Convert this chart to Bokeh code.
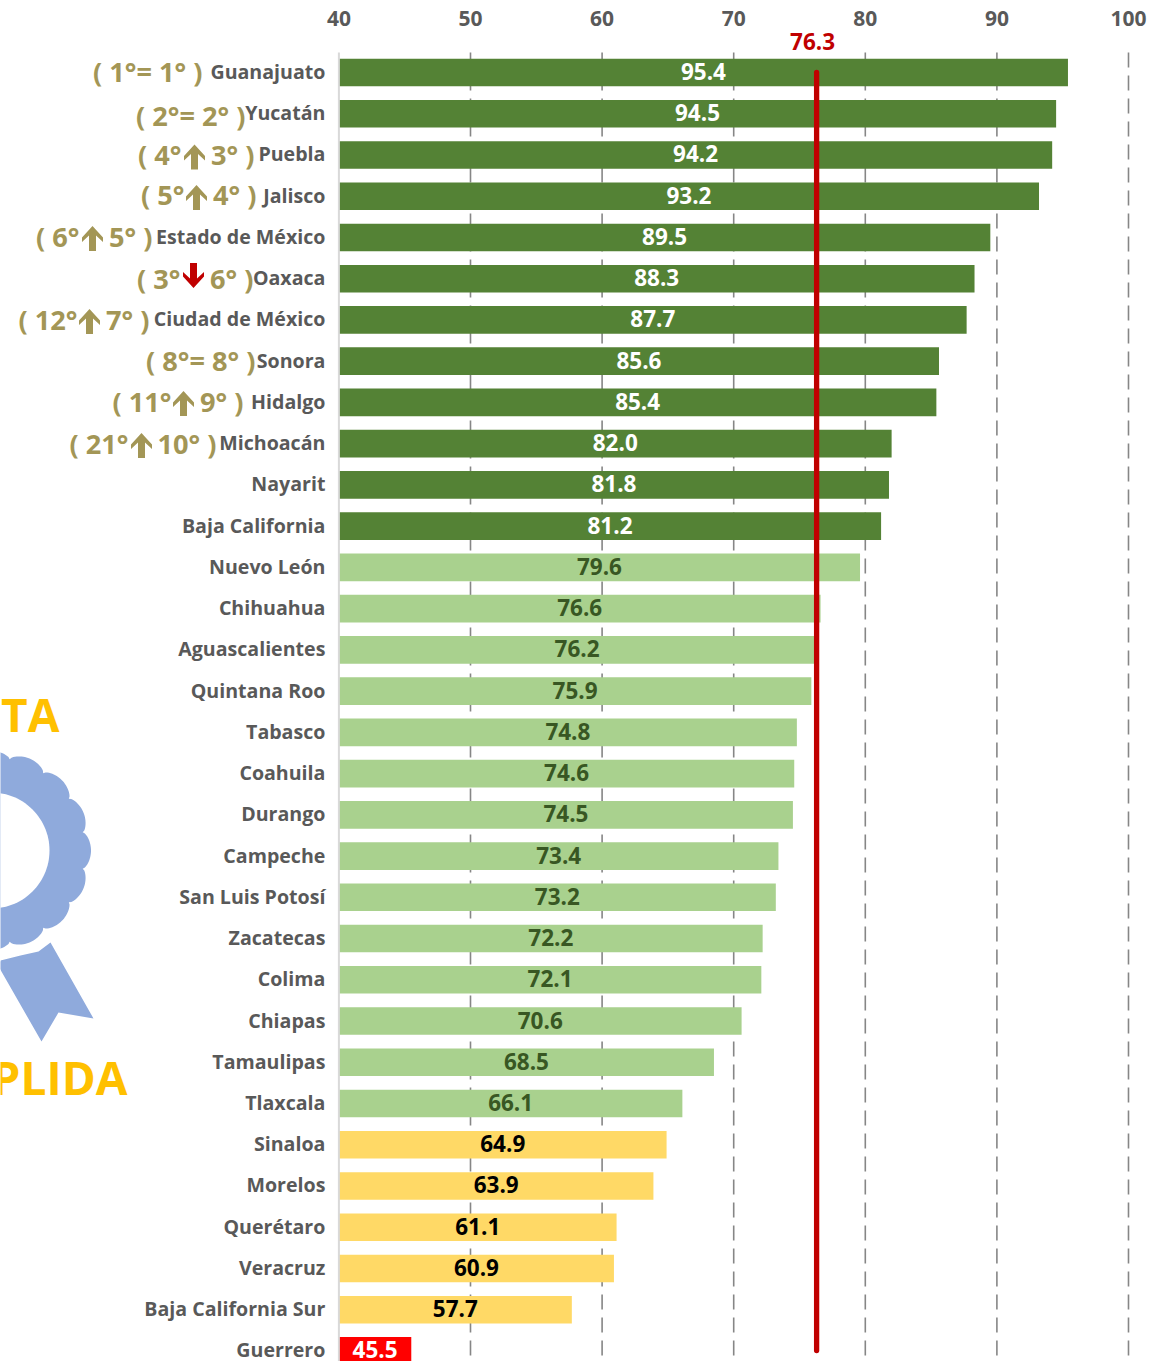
from bokeh.plotting import figure
from bokeh.models import Range1d, FixedTicker, ColumnDataSource
from bokeh.core.properties import value
from bokeh.embed import file_html
from bokeh.resources import INLINE
import numpy as np

states = ["Guanajuato","Yucatán","Puebla","Jalisco","Estado de México","Oaxaca","Ciudad de México","Sonora","Hidalgo","Michoacán","Nayarit","Baja California","Nuevo León","Chihuahua","Aguascalientes","Quintana Roo","Tabasco","Coahuila","Durango","Campeche","San Luis Potosí","Zacatecas","Colima","Chiapas","Tamaulipas","Tlaxcala","Sinaloa","Morelos","Querétaro","Veracruz","Baja California Sur","Guerrero"]
scores = [95.4,94.5,94.2,93.2,89.5,88.3,87.7,85.6,85.4,82.0,81.8,81.2,79.6,76.6,76.2,75.9,74.8,74.6,74.5,73.4,73.2,72.2,72.1,70.6,68.5,66.1,64.9,63.9,61.1,60.9,57.7,45.5]
band_counts = [12,14,5,1]
band_fill = ["#548235","#A9D18E","#FFD966","#FF0000"]
band_text = ["#FFFFFF","#385723","#000000","#FFFFFF"]
national = 76.3
x_ticks = [40,50,60,70,80,90,100]

rank_whole = ["( 1°= 1° )","( 2°= 2° )",None,None,None,None,None,"( 8°= 8° )",None,None]
rank_before = [None,None,"( 4°","( 5°","( 6°","( 3°","( 12°",None,"( 11°","( 21°"]
rank_after = [None,None,"3° )","4° )","5° )","6° )","7° )",None,"9° )","10° )"]
rank_dir = [0,0,1,1,1,-1,1,0,1,1]

# layout (page pixels of the reference)
PX0, PXU = 338.4, 13.16
PY0, PYU = 72.0, 41.24
def X(px): return 40 + (np.asarray(px, float) - PX0) / PXU
def Y(py): return (np.asarray(py, float) - PY0) / PYU

whole_right = [202,245,None,None,None,None,None,255,None,None]
before_right = [None,None,181,184,79,180,77,None,171,128]
arrow_cx = [None,None,194,196,92,193,89,None,183,141]
after_right = [None,None,254,256,152,253,149,None,243,216]
rank_cy = [70.5,114.5,153.5,193.5,235.5,277.5,318.5,359.5,400.5,442.5]
arrow_cy = [None,None,156.5,197,238,275,321,None,403,445]

FONT = "Open Sans"
NAME_SZ = "19.6px"; VAL_SZ = "22.5px"; RANK_SZ = "27.2px"
GOLD = "#A39656"; RED = "#C00000"; GREY = "#595959"; BLUE = "#8FAADC"; AMBER = "#FFC000"

p = figure(width=1152, height=1361, output_backend="svg", toolbar_location=None,
           x_range=Range1d(float(X(0)), float(X(1152))),
           y_range=Range1d(float(Y(1361)), float(Y(29))),
           x_axis_location="above", min_border_left=0, min_border_right=0,
           min_border_top=29, min_border_bottom=0)
p.outline_line_color = None
p.yaxis.visible = False
p.ygrid.visible = False
p.xgrid.visible = False
ax = p.xaxis[0]
ax.ticker = FixedTicker(ticks=x_ticks)
ax.axis_line_color = None
ax.major_tick_line_color = None
ax.minor_tick_line_color = None
ax.major_label_standoff = -2
ax.major_label_text_font = FONT
ax.major_label_text_font_style = "bold"
ax.major_label_text_font_size = "21px"
ax.major_label_text_color = GREY

grid_x = x_ticks[1:]
p.segment(x0=grid_x, x1=grid_x, y0=[float(Y(52))] * len(grid_x), y1=[float(Y(1361))] * len(grid_x),
          line_color="#868686", line_width=1.6, line_dash="15 8")

rows = list(range(len(states)))
fills, tcol = [], []
for c, f, t in zip(band_counts, band_fill, band_text):
    fills += [f] * c; tcol += [t] * c
src = ColumnDataSource(dict(y=rows, v=scores, mid=[(40 + s) / 2 for s in scores],
                            name=states, fill=fills, tc=tcol,
                            lab=[f"{s:.1f}" for s in scores], base=[40] * len(rows)))
p.hbar(y="y", left="base", right="v", height=0.67, fill_color="fill", line_color=None, source=src)
p.segment(x0=[40], x1=[40], y0=[float(Y(52))], y1=[float(Y(1361))], line_color="#D9D9D9", line_width=2)
p.text(x="mid", y="y", text="lab", text_color="tc", text_align="center", text_baseline="middle", y_offset=-1,
       text_font=value(FONT), text_font_style="bold", text_font_size=VAL_SZ, source=src)
p.text(x="base", y="y", text="name", text_color=GREY, text_align="right", text_baseline="middle",
       x_offset=-13.5, y_offset=-1, text_font=value(FONT), text_font_style="bold", text_font_size=NAME_SZ, source=src)
p.line(x=[national, national], y=[float(Y(72)), float(Y(1350))], line_color=RED, line_width=5.3, line_cap="round")
p.text(x=[national], y=[float(Y(41))], x_offset=-4, text=[f"{national:.1f}"], text_color=RED,
       text_align="center", text_baseline="middle",
       text_font=value(FONT), text_font_style="bold", text_font_size=VAL_SZ)

# rank annotations
txs, tys, tts = [], [], []
for i in range(10):
    cy = float(Y(rank_cy[i]))
    if rank_whole[i]:
        txs.append(float(X(whole_right[i]))); tys.append(cy); tts.append(rank_whole[i])
    else:
        txs += [float(X(before_right[i])), float(X(after_right[i]))]
        tys += [cy, cy]
        tts += [rank_before[i], rank_after[i]]
p.text(x=txs, y=tys, text=tts, text_color=GOLD, text_align="right", text_baseline="middle",
       text_font=value(FONT), text_font_style="bold", text_font_size=RANK_SZ)

ax_shape = np.array([0,10.5,10.5,3.5,3.5,-3.5,-3.5,-10.5,-10.5])
ay_shape = np.array([-12.5,-1,3.5,-3,12.5,12.5,-3,3.5,-1])
for i in range(10):
    if rank_dir[i]:
        xs = X(arrow_cx[i] + ax_shape)
        ys = Y(arrow_cy[i] + (ay_shape if rank_dir[i] > 0 else -ay_shape))
        p.patch(xs, ys, fill_color=GOLD if rank_dir[i] > 0 else RED, line_color=None)

# rosette decoration
RCX, RCY, R_IN, R_PEAK, R_NOTCH, N = -9.0, 850.0, 58.0, 99.5, 93.0, 16
ang = np.linspace(0, 2 * np.pi, 16 * 24 + 1)
rad = R_NOTCH + (R_PEAK - R_NOTCH) * np.abs(np.cos(ang * N / 2)) ** 0.6
ri_a = np.linspace(0, 2 * np.pi, 120)
p.patch(X(RCX + rad * np.cos(ang)), Y(RCY + rad * np.sin(ang)), fill_color=BLUE, line_color=None)
p.patch(X(RCX + R_IN * np.cos(ri_a)), Y(RCY + R_IN * np.sin(ri_a)), fill_color="#FFFFFF", line_color=None)
tail_x = [50,93,58,41,-2,0,20,38]
tail_y = [942,1018,1012,1041,966,960,955,951]
p.patch(X(tail_x), Y(tail_y), fill_color=BLUE, line_color=None)

p.text(x=[float(X(59)), float(X(127))], y=[float(Y(713)), float(Y(1076))], text=["META", "CUMPLIDA"],
       text_color=AMBER, text_align="right", text_baseline="middle",
       text_font=value(FONT), text_font_style="bold", text_font_size="46px")

open("out.html", "w").write(file_html(p, INLINE))
